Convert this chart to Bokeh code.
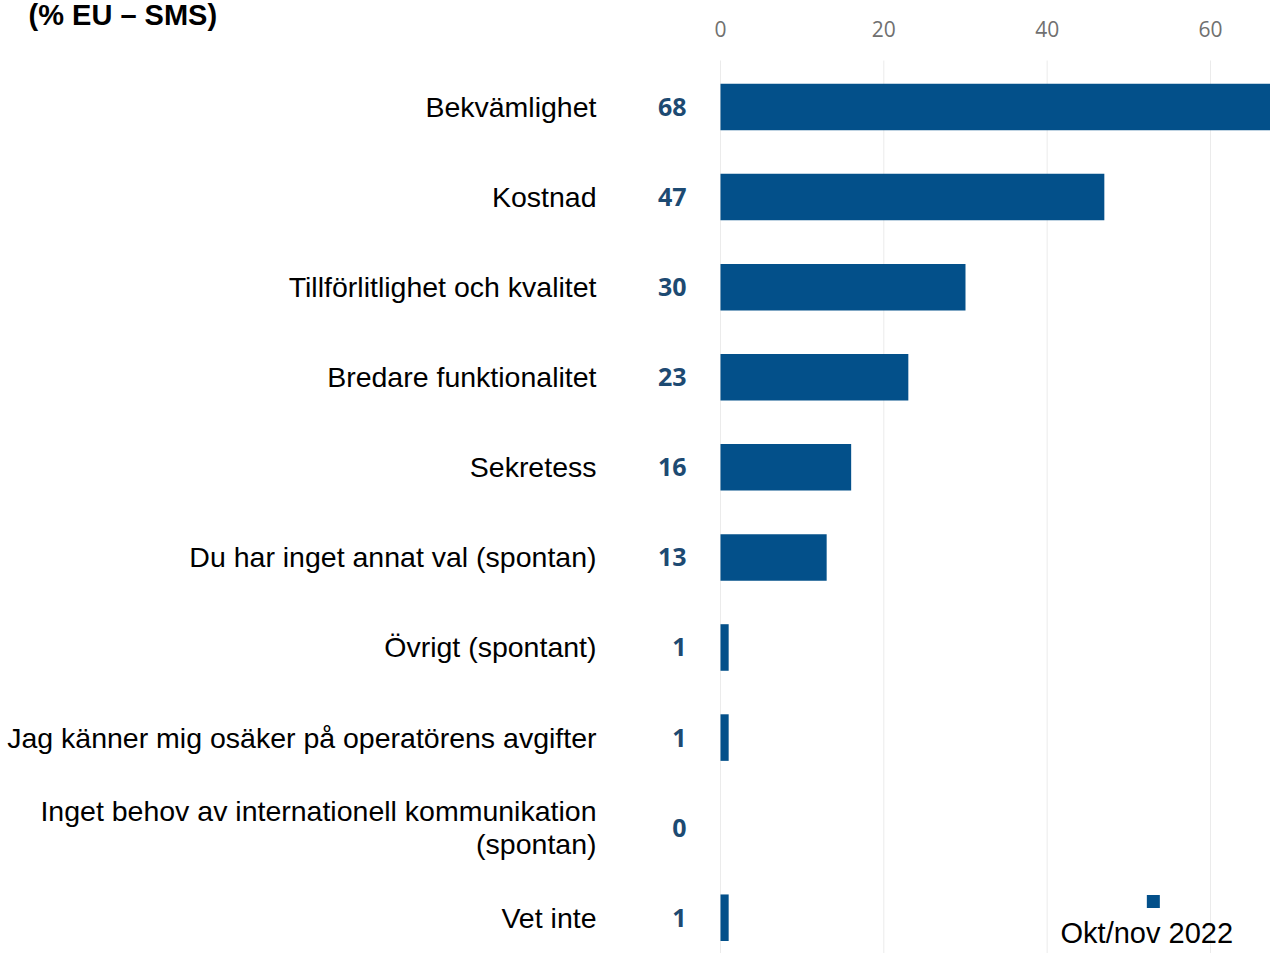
from bokeh.plotting import figure
from bokeh.models import Range1d, FixedTicker, LinearAxis, Label
from bokeh.embed import file_html
from bokeh.resources import INLINE

# ---- data ----
categories = [
    "Bekvämlighet",
    "Kostnad",
    "Tillförlitlighet och kvalitet",
    "Bredare funktionalitet",
    "Sekretess",
    "Du har inget annat val (spontan)",
    "Övrigt (spontant)",
    "Jag känner mig osäker på operatörens avgifter",
    "Inget behov av internationell kommunikation\n(spontan)",
    "Vet inte",
]
values = [68, 47, 30, 23, 16, 13, 1, 1, 0, 1]
x_ticks = [0, 20, 40, 60]
title_text = "(% EU – SMS)"
series_name = "Okt/nov 2022"

BAR = "#03508a"
positions = list(range(len(categories)))

X_MIN, X_MAX = -88.163, 67.347      # whole canvas is the plotting frame
Y_BOTTOM, Y_TOP = 9.397, -1.1823
AXIS_Y = -0.516                      # where the value axis (top) sits

p = figure(
    width=1270, height=953,
    x_range=Range1d(X_MIN, X_MAX),
    y_range=Range1d(Y_BOTTOM, Y_TOP),
    x_axis_location=None, y_axis_location=None,
    output_backend="svg", toolbar_location=None,
    min_border=0,
)
p.outline_line_color = None
p.background_fill_color = "white"
p.grid.visible = False

# vertical grid lines, starting at the axis
p.segment(x0=x_ticks, x1=x_ticks, y0=[AXIS_Y] * len(x_ticks), y1=[Y_BOTTOM] * len(x_ticks),
          line_color="#ebebeb", line_width=1)

p.hbar(y=positions, left=0, right=values, height=0.517, color=BAR, line_color=None)

# x axis (top)
xa = LinearAxis(ticker=FixedTicker(ticks=x_ticks), fixed_location=AXIS_Y, bounds=(0, X_MAX))
xa.major_label_text_font = "Open Sans"
xa.major_label_text_font_size = "21px"
xa.major_label_text_color = "#707070"
xa.axis_line_color = None
xa.major_tick_line_color = None
xa.minor_tick_line_color = None
xa.major_label_standoff = 18
p.add_layout(xa, "above")

# value labels axis
ya = LinearAxis(ticker=FixedTicker(ticks=positions), fixed_location=0)
ya.major_label_overrides = {i: str(v) for i, v in zip(positions, values)}
ya.major_label_text_font = "Open Sans"
ya.major_label_text_font_style = "bold"
ya.major_label_text_font_size = "25px"
ya.major_label_text_color = "#1d4a72"
ya.axis_line_color = None
ya.major_tick_line_color = None
ya.minor_tick_line_color = None
ya.major_label_standoff = 28
p.add_layout(ya, "left")

# category labels axis
ca = LinearAxis(ticker=FixedTicker(ticks=positions), fixed_location=0)
ca.major_label_overrides = {i: c for i, c in zip(positions, categories)}
ca.major_label_text_font = "Liberation Sans"
ca.major_label_text_font_size = "28.5px"
ca.major_label_text_line_height = 1.05
ca.major_label_text_color = "#000000"
ca.axis_line_color = None
ca.major_tick_line_color = None
ca.minor_tick_line_color = None
ca.major_label_standoff = 118
p.add_layout(ca, "left")

# title
p.add_layout(Label(x=-84.73, y=-1.016, text=title_text, text_font="Liberation Sans",
                   text_font_style="bold", text_font_size="29px",
                   text_baseline="alphabetic", text_align="left", text_color="#000000"))

# legend: key square above the series name
p.scatter(x=[53.0], y=[8.82], marker="square", size=13, color=BAR, line_color=None)
p.add_layout(Label(x=52.2, y=9.164, text=series_name, text_font="Liberation Sans",
                   text_font_size="29px", text_baseline="alphabetic", text_align="center",
                   text_color="#000000"))

open("out.html", "w").write(file_html(p, INLINE))
